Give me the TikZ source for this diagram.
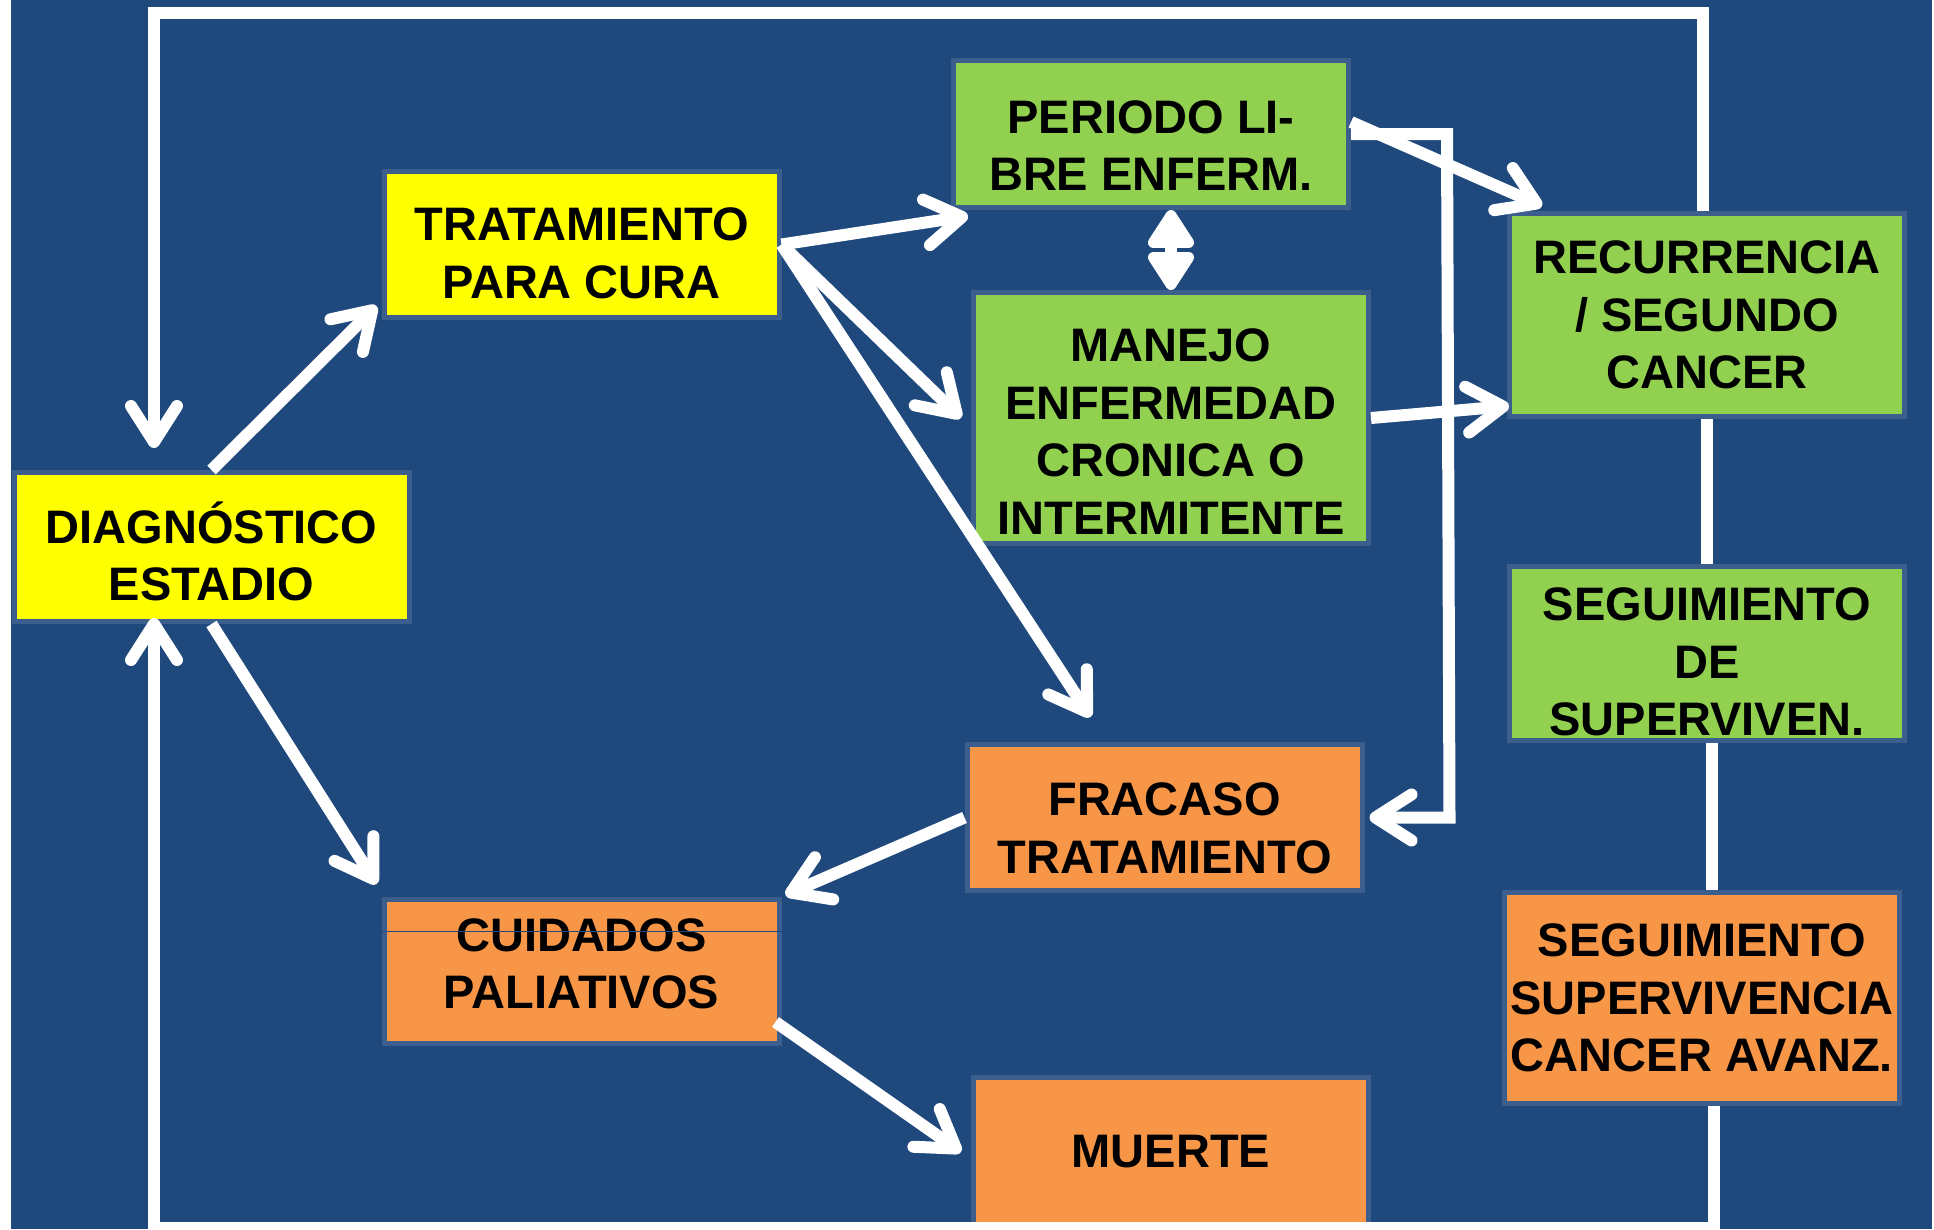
\documentclass[tikz,border=0pt]{standalone}
\usepackage{fontspec}
\setmainfont{Liberation Sans}
\usetikzlibrary{arrows.meta}

\definecolor{fondo}{RGB}{31,73,125}
\definecolor{borde}{RGB}{60,94,140}
\definecolor{amarillo}{RGB}{255,255,0}
\definecolor{verde}{RGB}{146,208,80}
\definecolor{naranja}{RGB}{247,150,70}

\newcommand{\hueco}[1]{\rule{0pt}{#1pt}}

\begin{document}
\begin{tikzpicture}[x=1pt,y=-1pt]
      \tikzset{
        caja/.style={rectangle,draw=borde,line width=5pt,inner sep=0pt,
          minimum width=395pt,align=center,text=black,
          font=\fontsize{47}{57.5}\selectfont\bfseries},
        abajo/.style={execute at end node={\rule[-#1pt]{0pt}{0pt}}},
        flecha/.style={draw=white,line width=12pt,
          -{Straight Barb[length=36pt,width=46pt,round]}},
        linea/.style={draw=white,line width=12pt}
      }

      \useasboundingbox (0,0) rectangle (1934,1229);
      \fill[white] (0,0) rectangle (1934,1229);
      \fill[fondo] (11,0) rectangle (1932,1229);

      \node[caja,fill=amarillo,minimum height=149pt] (diag) at (211.5,547) {\hueco{50}DIAGNÓSTICO\\ESTADIO};
      \node[caja,fill=amarillo,minimum height=146pt] (trat) at (581.5,244.5) {\hueco{50}TRATAMIENTO\\PARA CURA};
      \node[caja,fill=verde,minimum height=147pt] (libre) at (1151,134) {\hueco{56}PERIODO LI-\\BRE ENFERM.};
      \node[caja,fill=verde,minimum height=251pt] (manejo) at (1171,418) {\hueco{60}MANEJO\\ENFERMEDAD\\CRONICA O\\INTERMITENTE};
      \node[caja,fill=verde,minimum height=203pt] (recur) at (1707,315) {RECURRENCIA\\/ SEGUNDO\\CANCER};
      \node[caja,fill=verde,minimum height=174pt] (segde) at (1707,653.5) {\hueco{50}SEGUIMIENTO\\DE\\SUPERVIVEN.};
      \node[caja,fill=naranja,minimum height=211pt] (segav) at (1702,998) {SEGUIMIENTO\\SUPERVIVENCIA\\CANCER AVANZ.};
      \node[caja,fill=naranja,minimum height=146pt] (fracaso) at (1164.5,817.5) {\hueco{54}FRACASO\\TRATAMIENTO};
      \node[caja,fill=naranja,minimum height=144pt,abajo=16] (cuid) at (581.5,971.5) {CUIDADOS\\PALIATIVOS};
      \node[caja,fill=naranja,minimum height=149pt] (muerte) at (1171,1152) {MUERTE};

      \draw[fondo,line width=1.5pt] ([yshift=40pt]cuid.west) -- ([yshift=40pt]cuid.east);

      \coordinate (esqarriba) at (154,13);
      \coordinate (esqabajo) at (154,1228);

      \path (diag.north) edge[flecha] ([shift={(-5,-14)}]trat.south west)
            (diag.south) edge[flecha] ([shift={(-5,-13)}]cuid.north west)
            (trat.east) edge[flecha] ([shift={(17,6)}]libre.south west)
            (trat.east) edge[flecha] ([xshift=-10pt]manejo.west)
            (trat.east) edge[flecha] ([shift={(-74,-25)}]fracaso.north)
            ([yshift=12pt]libre.east) edge[flecha] ([shift={(35,-5)}]recur.north west)
            (manejo.east) edge[flecha] ([shift={(2,-13)}]recur.south west)
            (fracaso.west) edge[flecha] ([shift={(4,-2)}]cuid.north east)
            ([shift={(-6,-24)}]cuid.south east) edge[flecha] ([xshift=-10pt]muerte.west);

      \draw[flecha] (libre.east) -- ++(96,0) -- ([xshift=85pt]fracaso.east) -- ([xshift=5pt]fracaso.east);

      \draw[white,line width=12pt,{Triangle[length=43pt,width=52pt,round]}-{Triangle[length=43pt,width=52pt,round]}]
            (manejo.north |- libre.south) -- (manejo.north);

      \draw[linea] (recur.south) -- (segde.north)
            ([xshift=5pt]segde.south) -- ([xshift=10pt]segav.north);

      \draw[flecha,shorten >=22pt] ([xshift=-4pt]recur.north) |- (esqarriba) -- (esqarriba |- diag.north);
      \draw[flecha,shorten >=-6pt] ([xshift=12pt]segav.south) |- (esqabajo) -- (esqabajo |- diag.south);
\end{tikzpicture}
\end{document}
